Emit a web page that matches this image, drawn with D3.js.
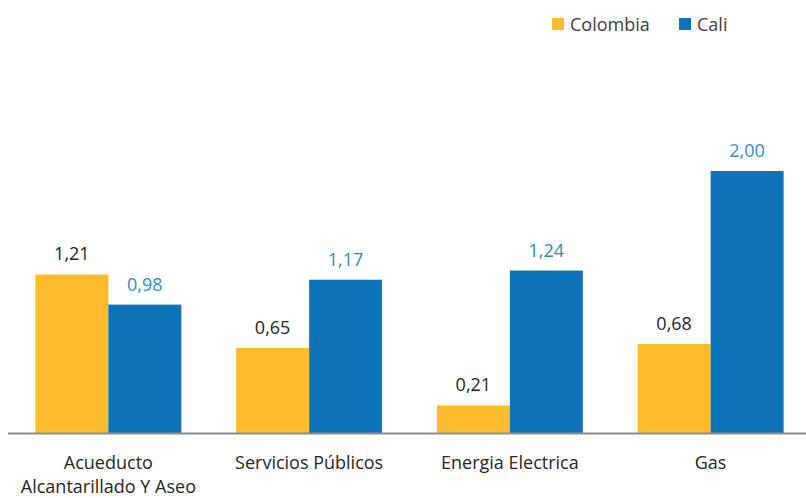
<!DOCTYPE html>
<html>
<head>
<meta charset="utf-8">
<script src="https://cdn.jsdelivr.net/npm/d3@7"></script>
<style>
  body { margin: 0; background: #fff; }
  svg { font-family: "Open Sans", "Noto Sans", sans-serif; }
</style>
</head>
<body>
<svg id="chart" width="806" height="498"></svg>
<script>
var categories = [["Acueducto", "Alcantarillado Y Aseo"], ["Servicios Públicos"], ["Energia Electrica"], ["Gas"]];
var series = ["Colombia", "Cali"];
var colombia = [1.21, 0.65, 0.21, 0.68];
var cali = [0.98, 1.17, 1.24, 2.00];

var colors = {"Colombia": "#FDBB2D", "Cali": "#0F73BA"};
var labelColors = {"Colombia": "#262626", "Cali": "#2E8BD0"};

function drawChart(){
  var baseline = 433;
  var svg = d3.select("#chart");

  var keys = categories.map(c => c.join(" "));
  var data = keys.map((k, i) => ({key: k, lines: categories[i], Colombia: colombia[i], Cali: cali[i]}));

  var x0 = d3.scaleBand()
    .domain(keys)
    .range([8, 811])
    .paddingInner(0.273)
    .paddingOuter(0.1365);

  var x1 = d3.scaleBand()
    .domain(series)
    .range([0, x0.bandwidth()]);

  var y = d3.scaleLinear()
    .domain([0, 2])
    .range([baseline, 171]);

  var fmt = v => d3.format(".2f")(v).replace(".", ",");

  var groups = svg.selectAll("g.group").data(data).join("g")
    .attr("class", "group")
    .attr("transform", d => `translate(${x0(d.key)},0)`);

  groups.selectAll("rect")
    .data(d => series.map(s => ({s, v: d[s]})))
    .join("rect")
    .attr("x", d => x1(d.s))
    .attr("y", d => y(d.v))
    .attr("width", x1.bandwidth())
    .attr("height", d => y(0) - y(d.v))
    .attr("fill", d => colors[d.s]);

  groups.selectAll("text.val")
    .data(d => series.map(s => ({s, v: d[s]})))
    .join("text")
    .attr("class", "val")
    .attr("x", d => x1(d.s) + x1.bandwidth() / 2)
    .attr("y", d => y(d.v) - 14)
    .attr("text-anchor", "middle")
    .attr("font-size", 18)
    .attr("fill", d => labelColors[d.s])
    .text(d => fmt(d.v));

  // axis line
  svg.append("line")
    .attr("x1", 8).attr("x2", 806)
    .attr("y1", baseline + 0.5).attr("y2", baseline + 0.5)
    .attr("stroke", "#8c8c8c")
    .attr("stroke-width", 2);

  // category labels
  groups.each(function(d){
    var t = d3.select(this).append("text")
      .attr("text-anchor", "middle")
      .attr("font-size", 18)
      .attr("fill", "#262626");
    d.lines.forEach((l, i) => {
      t.append("tspan")
        .attr("x", x0.bandwidth() / 2)
        .attr("y", 469 + i * 24)
        .text(l);
    });
  });

  // legend
  var legendX = [552, 679];
  var lg = svg.append("g").selectAll("g").data(series).join("g")
    .attr("transform", (d, i) => `translate(${legendX[i]},18)`);
  lg.append("rect")
    .attr("width", 12).attr("height", 12)
    .attr("fill", d => colors[d]);
  lg.append("text")
    .attr("x", 18).attr("y", 12.5)
    .attr("font-size", 18)
    .attr("fill", "#404040")
    .text(d => d);
}

drawChart();
</script>
</body>
</html>
